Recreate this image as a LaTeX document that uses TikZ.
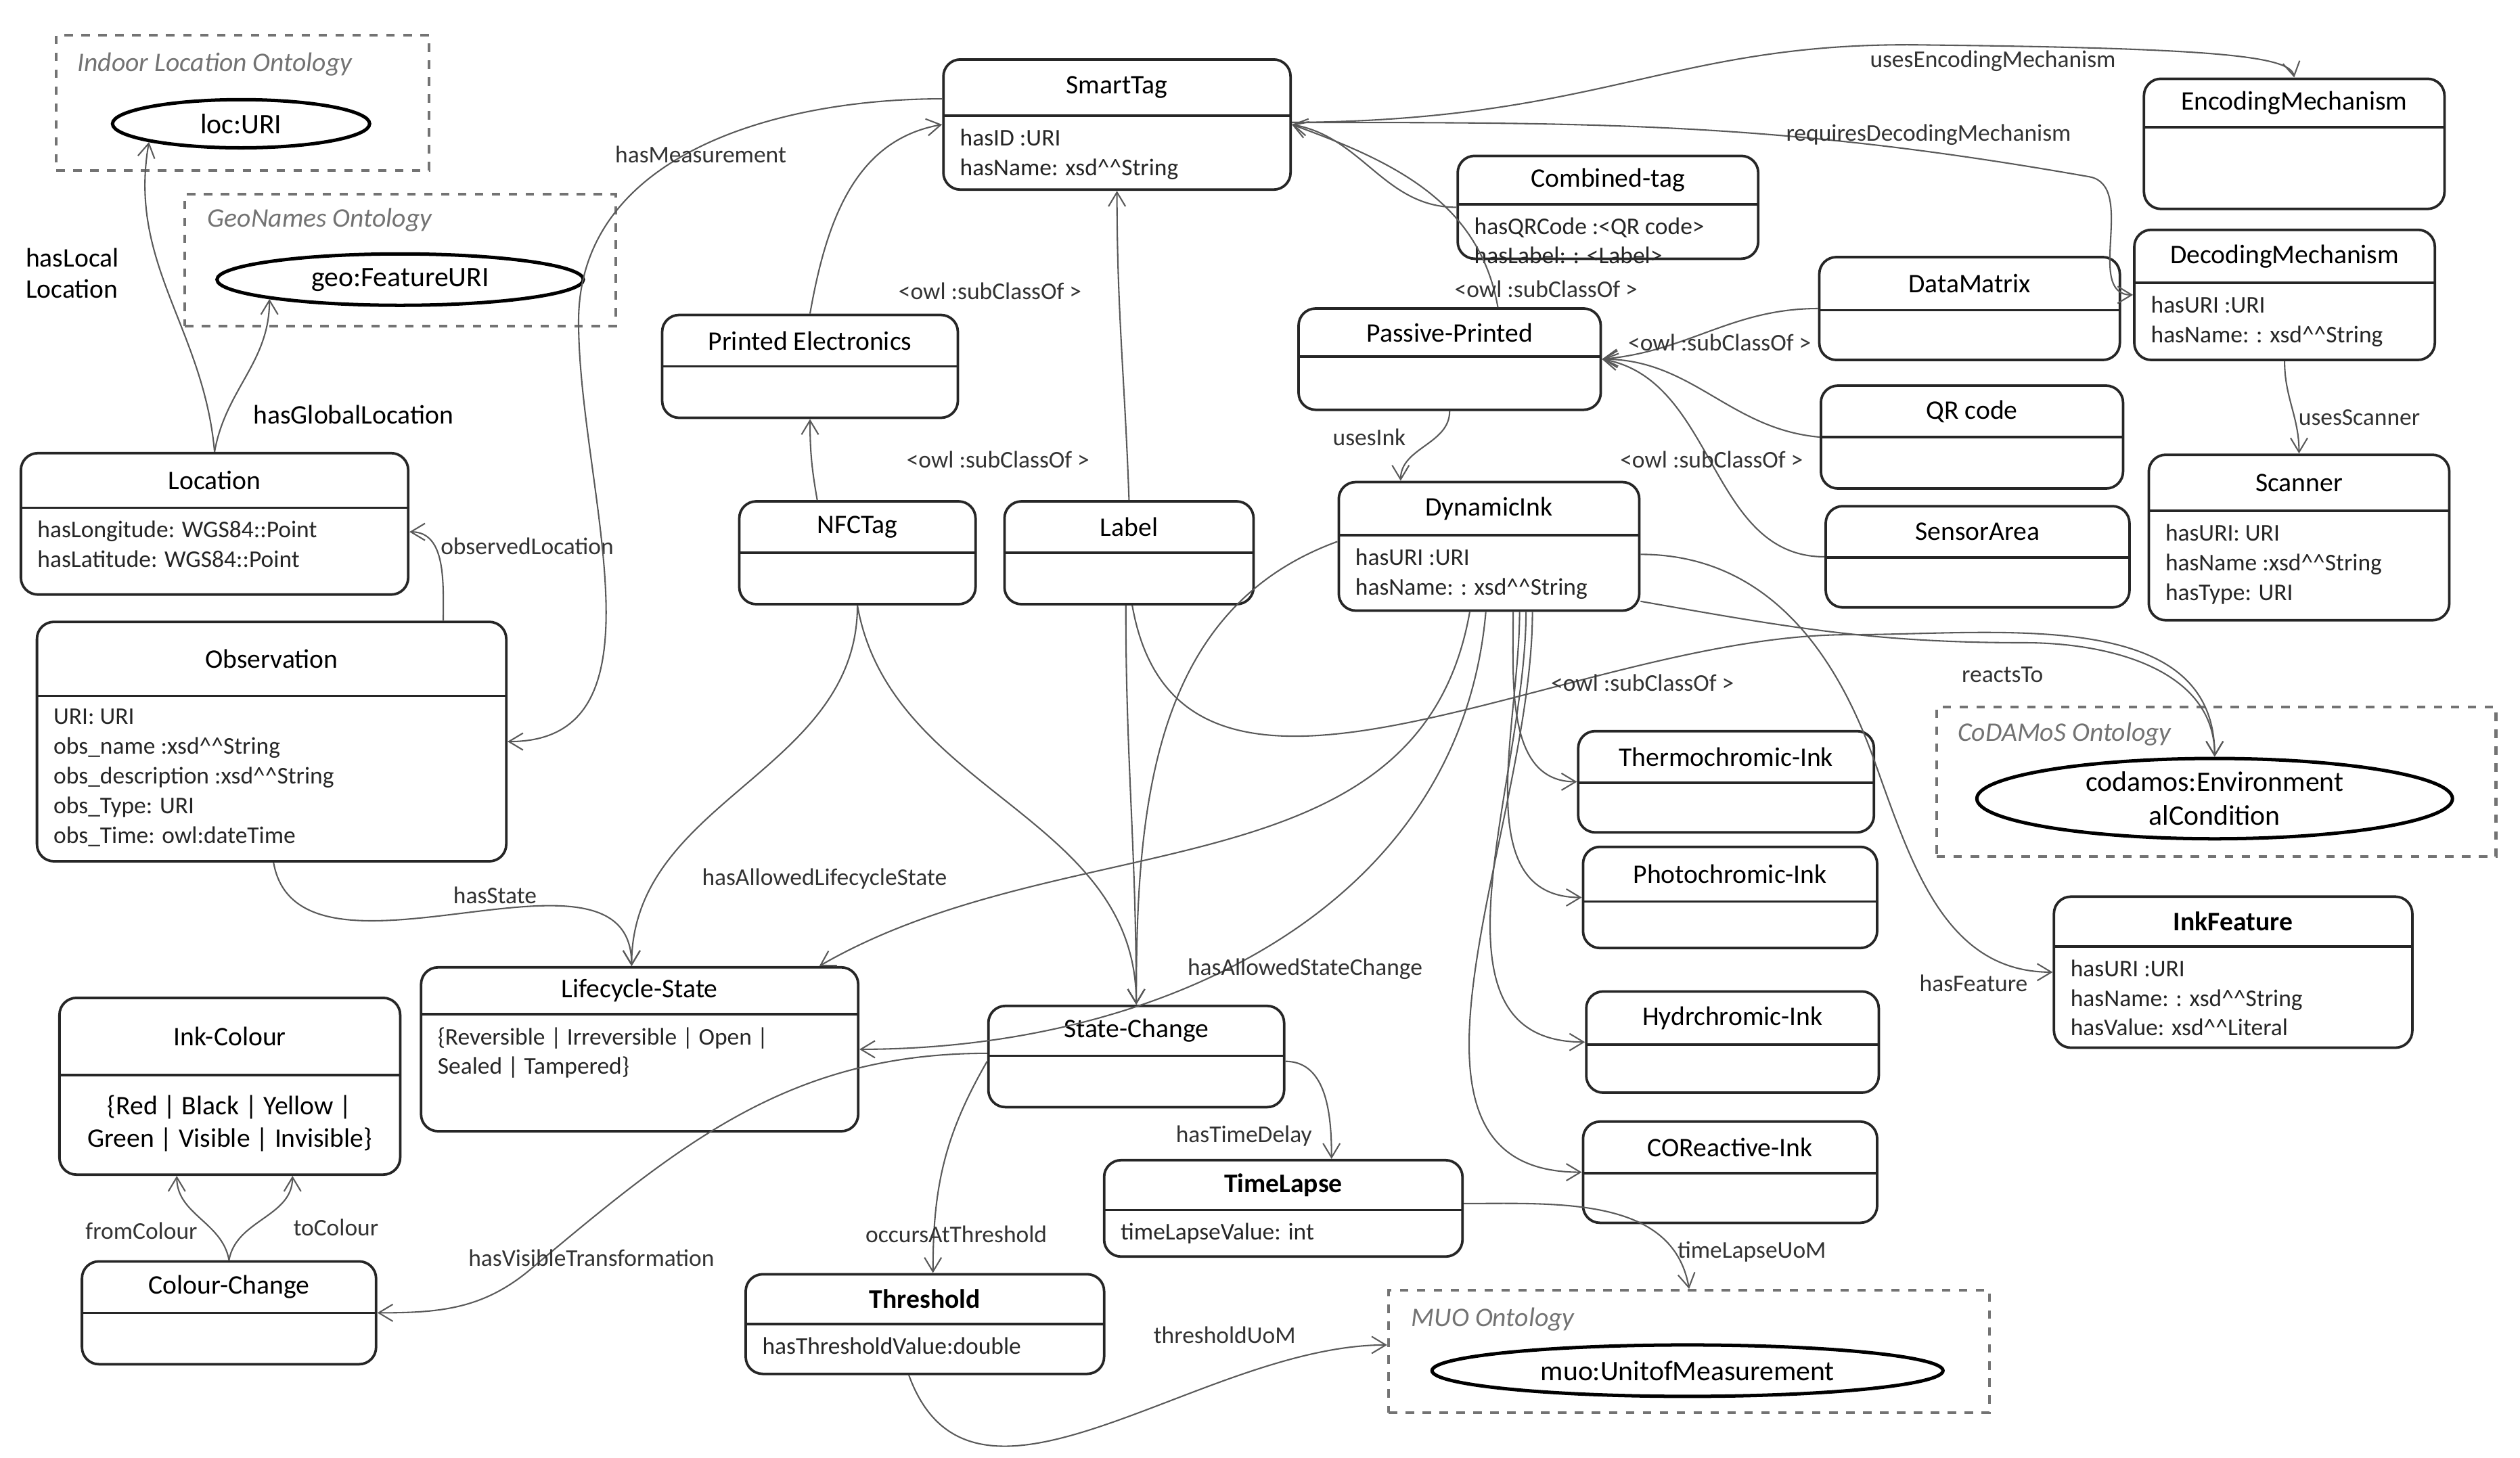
\documentclass[tikz,border=0pt]{standalone}
\usepackage{fontspec}
\setmainfont{Carlito}
\usetikzlibrary{arrows.meta,fit,shapes.geometric,calc}
\tikzset{
 box/.style={draw=black!85,line width=0.9pt,rounded corners=6pt,inner sep=0pt},
 dline/.style={draw=black!85,line width=0.9pt},
 ttl/.style={font=\fontsize{9.5}{11}\selectfont,text=black},
 bdy/.style={font=\fontsize{8.5}{10.5}\selectfont,text=black!85,align=left,anchor=north west,inner sep=0pt},
 cont/.style={draw=black!55,dashed,line width=1pt,inner sep=0pt},
 ctitle/.style={font=\itshape\fontsize{9.5}{11}\selectfont,text=black!55,anchor=west},
 ell/.style={ellipse,draw=black,line width=1.2pt,inner sep=0pt,font=\fontsize{10}{12}\selectfont,align=center},
 edge/.style={draw=black!65,line width=0.5pt,-{Straight Barb[length=5pt,width=6pt]}},
 lab/.style={font=\fontsize{8.5}{10}\selectfont,text=black!80,inner sep=1pt}
}
\newcommand\cls[8]{%
 \coordinate (#1-nw) at (#2,#3); \coordinate (#1-se) at (#4,#5);
 \node[box,fit=(#1-nw)(#1-se)] (#1) {};
 \draw[dline] (#2,#6) -- (#4,#6);
 \node[ttl] (#1-t) at ({(#2+#4)/2},{(#3+#6)/2}) {#7};
 \node[bdy] (#1-b) at ({#2+10},{#6+8}) {#8};
}
\newcommand\contbox[5]{%
 \coordinate (#1-nw) at (#2,#3); \coordinate (#1-se) at (#4,#5);
 \node[cont,fit=(#1-nw)(#1-se)] (#1) {};
}
\begin{document}
\begin{tikzpicture}[x=0.02cm,y=-0.02cm]
\useasboundingbox (0,0) rectangle (1568,907);
% containers
\contbox{indoor}{35}{22}{267}{106}
\node[ctitle] at (42,40) {Indoor Location Ontology};
\node[ell,minimum width=3.2cm,minimum height=0.6cm] (loc) at (150,77) {loc:URI};
\contbox{geo}{115}{121}{383}{203}
\node[ctitle] at (123,137) {GeoNames Ontology};
\node[ell,minimum width=4.56cm,minimum height=0.64cm] (geoE) at (249,174) {geo:FeatureURI};
\contbox{coda}{1205}{440}{1553}{533}
\node[ctitle] at (1212,457) {CoDAMoS Ontology};
\node[ell,minimum width=5.92cm,minimum height=1.0cm] (codaE) at (1378,497) {codamos:Environment\\alCondition};
\contbox{muo}{864}{803}{1238}{879}
\node[ctitle] at (872,821) {MUO Ontology};
\node[ell,minimum width=6.36cm,minimum height=0.64cm] (muoE) at (1050,853) {muo:UnitofMeasurement};
% classes
\cls{smart}{587}{37}{803}{118}{72}{SmartTag}{hasID :URI\\hasName: xsd\textasciicircum\textasciicircum String}
\cls{enc}{1334}{49}{1521}{130}{79}{EncodingMechanism}{}
\cls{comb}{907}{97}{1094}{161}{127}{Combined-tag}{hasQRCode :<QR code>\\hasLabel: : <Label>}
\cls{dec}{1328}{143}{1515}{224}{176}{DecodingMechanism}{hasURI :URI\\hasName: : xsd\textasciicircum\textasciicircum String}
\cls{dm}{1132}{160}{1319}{224}{193}{DataMatrix}{}
\cls{pp}{808}{192}{996}{255}{222}{Passive-Printed}{}
\cls{pe}{412}{196}{596}{260}{228}{Printed Electronics}{}
\cls{qr}{1133}{240}{1321}{304}{272}{QR code}{}
\cls{scan}{1337}{283}{1524}{386}{318}{Scanner}{hasURI: URI\\hasName :xsd\textasciicircum\textasciicircum String\\hasType: URI}
\cls{locn}{13}{282}{254}{370}{316}{Location}{hasLongitude: WGS84::Point\\hasLatitude: WGS84::Point}
\cls{nfc}{460}{312}{607}{376}{344}{NFCTag}{}
\cls{label}{625}{312}{780}{376}{344}{Label}{}
\cls{dyn}{833}{300}{1020}{380}{333}{DynamicInk}{hasURI :URI\\hasName: : xsd\textasciicircum\textasciicircum String}
\cls{sens}{1136}{315}{1325}{378}{347}{SensorArea}{}
\cls{obs}{23}{387}{315}{536}{433}{Observation}{URI: URI\\obs\_name :xsd\textasciicircum\textasciicircum String\\obs\_description :xsd\textasciicircum\textasciicircum String\\obs\_Type: URI\\obs\_Time: owl:dateTime}
\cls{thermo}{982}{455}{1166}{518}{487}{Thermochromic-Ink}{}
\cls{photo}{985}{527}{1168}{590}{561}{Photochromic-Ink}{}
\cls{feat}{1278}{558}{1501}{652}{589}{\textbf{InkFeature}}{hasURI :URI\\hasName: : xsd\textasciicircum\textasciicircum String\\hasValue: xsd\textasciicircum\textasciicircum Literal}
\cls{life}{262}{602}{534}{704}{631}{Lifecycle-State}{\{Reversible | Irreversible | Open |\\Sealed | Tampered\}}
\cls{inkc}{37}{621}{249}{731}{669}{Ink-Colour}{}
\node[font=\fontsize{9.5}{11.5}\selectfont,align=center] at (143,699) {\{Red | Black | Yellow |\\Green | Visible | Invisible\}};
\cls{sc}{615}{626}{799}{689}{657}{State-Change}{}
\cls{hydr}{987}{617}{1169}{680}{650}{Hydrchromic-Ink}{}
\cls{cor}{985}{698}{1168}{761}{730}{COReactive-Ink}{}
\cls{tl}{687}{722}{910}{782}{753}{\textbf{TimeLapse}}{timeLapseValue: int}
\cls{cc}{51}{785}{234}{849}{817}{Colour-Change}{}
\cls{thr}{464}{793}{687}{855}{824}{\textbf{Threshold}}{hasThresholdValue:double}
% edges
\draw[edge] (locn.north) to[out=95,in=-100] (loc.south west);
\node[lab,align=left,font=\fontsize{9.5}{11}\selectfont,text=black] at (45,170) {hasLocal\\Location};
\draw[edge] (locn.north) to[out=80,in=-90] (geoE.south west);
\node[lab,font=\fontsize{9.5}{11}\selectfont,text=black] at (220,258) {hasGlobalLocation};
\draw[edge] ($(obs.north east)+(-40,0)$) to[out=90,in=0] ($(locn.east)+(0,5)$);
\node[lab] at (328,340) {observedLocation};
\draw[edge] ($(smart.west)+(0,-16)$) to[out=180,in=90] (360,200) to[out=-90,in=0] (obs.east);
\node[lab] at (436,96) {hasMeasurement};
\draw[edge] (pe.north) to[out=80,in=190] (smart.west);
\node[lab] at (616,181) {<owl :subClassOf >};
\draw[edge] (label.north) to[out=92,in=-90] (smart.south);
\draw[edge] ($(nfc.north)+(-25,0)$) to[out=100,in=-90] (pe.south);
\node[lab] at (621,286) {<owl :subClassOf >};
\draw[edge] ($(pp.north)+(30,0)$) to[out=100,in=-20] (smart.east);
\node[lab] at (962,180) {<owl :subClassOf >};
\draw[edge] (comb.west) to[out=180,in=-10] (smart.east);
\draw[edge] ($(smart.north east)+(0,40)$) .. controls (1000,75) and (1040,25) .. (1200,28) .. controls (1380,30) and (1425,35) .. (enc.north);
\node[lab] at (1240,38) {usesEncodingMechanism};
\draw[edge] ($(smart.north east)+(0,40)$) to[out=0,in=170] (1300,110) to[out=-10,in=180] (dec.west);
\node[lab] at (1200,84) {requiresDecodingMechanism};
\draw[edge] (dm.west) to[out=180,in=5] (pp.east);
\node[lab] at (1070,213) {<owl :subClassOf >};
\draw[edge] (qr.west) to[out=175,in=0] (pp.east);
\draw[edge] (sens.west) to[out=180,in=-10] (pp.east);
\node[lab] at (1065,286) {<owl :subClassOf >};
\draw[edge] (pp.south) to[out=-90,in=90] ($(dyn.north)+(-55,0)$);
\node[lab] at (852,272) {usesInk};
\draw[edge] (dec.south) to[out=-90,in=90] (scan.north);
\node[lab] at (1468,260) {usesScanner};
\draw[edge] ($(label.south)+(2,0)$) to[out=-80,in=180] (1150,395) to[out=0,in=90] (codaE.north);
\draw[edge] ($(dyn.north east)+(0,75)$) to[out=-10,in=180] (1260,400) to[out=0,in=90] (codaE.north);
\node[lab] at (1246,420) {reactsTo};
\draw[edge] ($(dyn.east)+(0,5)$) to[out=0,in=110] (1165,470) to[out=-70,in=180] (feat.west);
\node[lab] at (1228,612) {hasFeature};
\foreach \t/\d in {thermo/0,photo/-2,hydr/-4,cor/-6}{
 \draw[edge] ($(dyn.south)+(15+\d*-2,0)$) to[out=-90,in=180] (\t.west);}
\node[lab] at (1022,425) {<owl :subClassOf >};
\draw[edge] ($(dyn.south)+(-2,0)$) to[out=-95,in=0] (life.east);
\draw[edge] ($(dyn.south)+(-12,0)$) to[out=-100,in=30] ($(life.north east)+(-25,0)$);
\draw[edge] ($(dyn.west)+(0,-3)$) to[out=200,in=90] (sc.north);
\node[lab] at (812,603) {hasAllowedStateChange};
\draw[edge] (nfc.south) to[out=-90,in=90] ($(life.north)+(-5,0)$);
\node[lab] at (513,547) {hasAllowedLifecycleState};
\draw[edge] ($(obs.south west)+(148,0)$) to[out=-80,in=90] ($(life.north)+(-5,0)$);
\node[lab] at (308,557) {hasState};
\draw[edge] (nfc.south) to[out=-80,in=90] (sc.north);
\draw[edge] ($(label.south)+(-2,0)$) to[out=-90,in=90] (sc.north);
\draw[edge] ($(sc.east)+(0,3)$) to[out=0,in=90] ($(tl.north)+(30,0)$);
\node[lab] at (774,707) {hasTimeDelay};
\draw[edge] ($(sc.west)+(0,3)$) to[out=-120,in=90] ($(thr.north)+(5,0)$);
\node[lab] at (595,768) {occursAtThreshold};
\draw[edge] ($(sc.west)+(0,-2)$) to[out=180,in=40] (330,790) to[out=-140,in=0] (cc.east);
\node[lab] at (368,783) {hasVisibleTransformation};
\draw[edge] ($(tl.east)+(0,-3)$) to[out=0,in=100] (muo.north);
\node[lab] at (1090,779) {timeLapseUoM};
\draw[edge] ($(thr.south)+(-10,0)$) to[out=-70,in=180] ($(muo.west)+(0,-4)$);
\node[lab] at (762,831) {thresholdUoM};
\draw[edge] (cc.north) to[out=100,in=-90] ($(inkc.south)+(-33,0)$);
\node[lab] at (88,766) {fromColour};
\draw[edge] (cc.north) to[out=80,in=-90] ($(inkc.south)+(39,0)$);
\node[lab] at (209,764) {toColour};
\end{tikzpicture}
\end{document}
